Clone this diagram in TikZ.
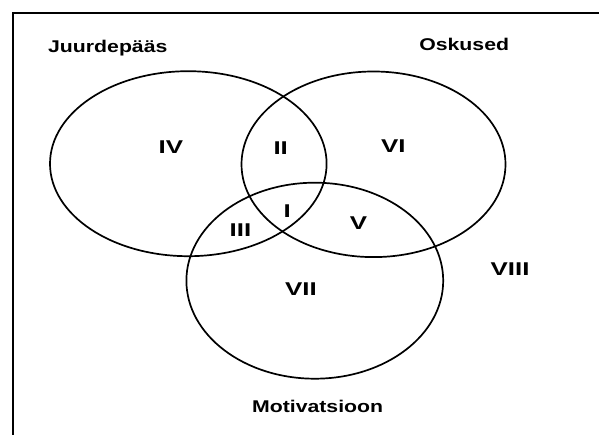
\documentclass[tikz,border=0pt]{standalone}
\usepackage{fontspec}
\setmainfont{Liberation Sans}
\usetikzlibrary{shapes.geometric}
\begin{document}
\begin{tikzpicture}[x=1pt,y=-1pt,
  venn/.style={ellipse, draw=black, line width=1.7pt, inner sep=0pt, outer sep=0pt},
  word/.style={font=\bfseries\fontsize{17}{20}\selectfont, inner sep=0pt, anchor=base},
  num/.style={font=\bfseries\fontsize{18.5}{21}\selectfont, inner sep=0pt},
  frameline/.style={line width=2.2pt}]
\useasboundingbox (0,0) rectangle (599,435);
% frame (cut off at right and bottom)
\coordinate (fbl) at (13,440);
\coordinate (ftl) at (13,13);
\coordinate (ftr) at (604,13);
\draw[frameline] (fbl) -- (ftl) -- (ftr);
% sets
\node[venn, minimum width=276.6pt, minimum height=185pt] (acc) at (188.3,163.7) {};
\node[venn, minimum width=264pt, minimum height=185.6pt] (ski) at (373.5,164.3) {};
\node[venn, minimum width=256.8pt, minimum height=196pt] (mot) at (314.8,280.7) {};
% set names
\node[word] (tacc) at (107.8,52.6) {\scalebox{1.25}[1]{Juurdepääs}};
\node[word] (tski) at (464.2,50.7) {\scalebox{1.25}[1]{Oskused}};
\node[word] (tmot) at (317.6,412.3) {\scalebox{1.25}[1]{Motivatsioon}};
% regions
\node[num] (r4) at (170.8,147.2) {\scalebox{1.4}[1]{IV}};
\node[num] (r2) at (280.7,148.3) {\scalebox{1.4}[1]{II}};
\node[num] (r6) at (393.4,145.7) {\scalebox{1.4}[1]{VI}};
\node[num] (r1) at (287.2,211.3) {\scalebox{1.4}[1]{I}};
\node[num] (r3) at (240.4,230) {\scalebox{1.4}[1]{III}};
\node[num] (r5) at (358.6,223.2) {\scalebox{1.4}[1]{V}};
\node[num] (r7) at (301,288.8) {\scalebox{1.4}[1]{VII}};
\node[num] (r8) at (510,268.8) {\scalebox{1.4}[1]{VIII}};
\end{tikzpicture}
\end{document}
